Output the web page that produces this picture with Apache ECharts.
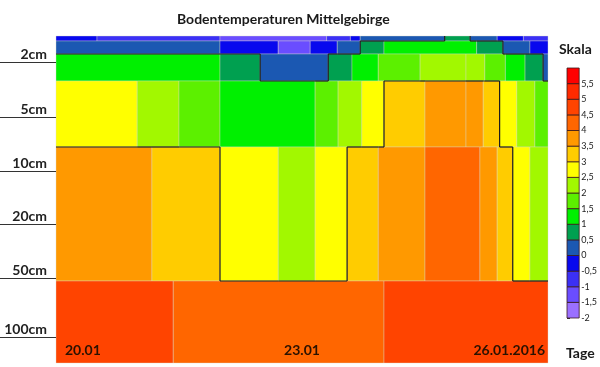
<!DOCTYPE html>
<html><head><meta charset="utf-8">
<script src="https://cdn.jsdelivr.net/npm/echarts@6/dist/echarts.min.js"></script>
<style>html,body{margin:0;padding:0;background:#fff}#c{width:600px;height:367px}</style>
</head><body><div id="c"></div>
<script>
// ---- data ----
const dateLabels = ['20.01', '23.01', '26.01.2016'];          // x axis (days 0,3,6)
const depthLabels = ['2cm', '5cm', '10cm', '20cm', '50cm', '100cm'];
const depthTickPos = [26, 81, 135, 188, 242, 301];             // positions on display-depth scale
const rowBounds = [0, 5, 18, 45, 111, 245, 327];               // layer boundaries on display-depth scale

// surface film
const rowAEdges = [0, 0.5, 2.0, 3.3, 3.59, 3.71, 4.74, 5.05, 5.38, 5.7, 6];
const rowAValues = [-0.3, -0.7, -1.2, -0.7, -0.3, 0.3, 0.8, 0.3, -0.3, -0.7];
// upper 2cm
const rowBEdges = [0, 2.0, 2.71, 3.1, 3.43, 3.71, 4.0, 5.13, 5.45, 5.78, 6];
const rowBValues = [0.3, -0.3, -1.2, -0.3, 0.3, 0.8, 1.3, 0.8, 0.3, -0.3];
// 2cm
const rowCEdges = [0, 2.0, 2.49, 3.32, 3.61, 3.93, 4.44, 5.0, 5.23, 5.48, 5.72, 5.94, 6];
const rowCValues = [1.3, 0.8, 0.3, 0.8, 1.3, 1.7, 2.2, 2.1, 1.7, 1.3, 0.8, 0.3];
// 5cm
const rowDEdges = [0, 0.99, 1.5, 2.0, 3.16, 3.44, 3.73, 4.0, 4.5, 5.0, 5.21, 5.41, 5.62, 5.84, 6];
const rowDValues = [2.7, 2.2, 1.7, 1.3, 1.8, 2.2, 2.8, 3.2, 3.7, 3.6, 3.2, 2.7, 2.2, 1.8];
// 10-50cm
const rowEEdges = [0, 1.17, 2.0, 2.71, 3.16, 3.55, 3.93, 4.5, 5.17, 5.38, 5.57, 5.78, 6];
const rowEValues = [3.7, 3.2, 2.7, 2.3, 2.7, 3.2, 3.7, 4.2, 3.7, 3.2, 2.7, 2.3];
// 100cm
const rowFEdges = [0, 1.43, 4.0, 6];
const rowFValues = [4.7, 4.3, 4.7];

const scaleBreaks = [-2, -1.5, -1, -0.5, 0, 0.5, 1, 1.5, 2, 2.5, 3, 3.5, 4, 4.5, 5, 5.5, 6];
const scaleColors = ['#9b70ff', '#6a4dff', '#3b30f5', '#0808ee', '#1b58b2', '#00a050',
  '#00f000', '#5cf000', '#a2f800', '#ffff00', '#ffcc00', '#ff9900', '#ff6600', '#ff4400', '#ff2a00', '#ff0000'];
const contourLevels = [0.5, 3];

// ---- build ----
const rows = [[rowAEdges, rowAValues], [rowBEdges, rowBValues], [rowCEdges, rowCValues],
  [rowDEdges, rowDValues], [rowEEdges, rowEValues], [rowFEdges, rowFValues]];

function colorFor(v) {
  for (let i = 0; i < scaleColors.length; i++) {
    if (v >= scaleBreaks[i] && v < scaleBreaks[i + 1]) return scaleColors[i];
  }
  return scaleColors[scaleColors.length - 1];
}

const cells = [];
rows.forEach(([e, vals], r) => {
  vals.forEach((v, i) => cells.push([e[i], e[i + 1], rowBounds[r], rowBounds[r + 1], v]));
});

const segs = [];
contourLevels.forEach(t => {
  rows.forEach(([e, vals], r) => {
    for (let i = 0; i < vals.length - 1; i++) {
      if ((vals[i] < t) !== (vals[i + 1] < t)) segs.push([e[i + 1], rowBounds[r], e[i + 1], rowBounds[r + 1]]);
    }
    if (r < rows.length - 1) {
      const [e2, v2] = rows[r + 1];
      for (let i = 0; i < vals.length; i++) for (let j = 0; j < v2.length; j++) {
        const a = Math.max(e[i], e2[j]), b = Math.min(e[i + 1], e2[j + 1]);
        if (b > a && ((vals[i] < t) !== (v2[j] < t))) segs.push([a, rowBounds[r + 1], b, rowBounds[r + 1]]);
      }
    }
  });
});

const legendBlocks = scaleColors.map((c, i) => [0, 1, scaleBreaks[i], scaleBreaks[i + 1], (scaleBreaks[i] + scaleBreaks[i + 1]) / 2]);

const FONT = 'Lato, "Open Sans", sans-serif';
const chart = echarts.init(document.getElementById('c'));
chart.setOption({
  animation: false,
  title: [
    { text: 'Bodentemperaturen Mittelgebirge', left: 172, top: 7,
      textStyle: { fontFamily: FONT, fontSize: 14, fontWeight: 'bold', color: '#1a1a1a' } },
    { text: 'Skala', left: 554, top: 37, textStyle: { fontFamily: FONT, fontSize: 14, fontWeight: 'bold', color: '#1a1a1a' } },
    { text: 'Tage', left: 561, top: 341, textStyle: { fontFamily: FONT, fontSize: 14, fontWeight: 'bold', color: '#1a1a1a' } }
  ],
  grid: [
    { left: 56, right: 52, top: 36, bottom: 4 },
    { left: 567, width: 15, top: 68, height: 250 }
  ],
  xAxis: [
    { type: 'value', gridIndex: 0, min: 0, max: 6, interval: 3, z: 10,
      axisLine: { show: false }, axisTick: { show: false }, splitLine: { show: false },
      axisLabel: { inside: true, margin: 6, fontFamily: FONT, fontSize: 14, fontWeight: 'bold', color: '#2b1200',
        alignMinLabel: 'left', alignMaxLabel: 'right',
        formatter: v => { const i = Math.round(v / 3); return i === 0 ? '{a|' + dateLabels[0] + '}' : i === 2 ? '{c|' + dateLabels[2] + '}' : dateLabels[i]; },
        rich: { a: { padding: [0, 0, 0, 9], fontFamily: FONT, fontSize: 14, fontWeight: 'bold', color: '#2b1200' },
                c: { padding: [0, 3, 0, 0], fontFamily: FONT, fontSize: 14, fontWeight: 'bold', color: '#2b1200' } } } },
    { type: 'value', gridIndex: 1, min: 0, max: 1, show: false }
  ],
  yAxis: [
    { type: 'value', gridIndex: 0, min: 0, max: 327, inverse: true, z: 10,
      axisLine: { show: false }, splitLine: { show: false },
      axisTick: { show: true, customValues: depthTickPos, length: 56, lineStyle: { color: '#333', width: 1 } },
      axisLabel: { customValues: depthTickPos, margin: 9, verticalAlign: 'bottom', padding: [0, 0, 1, 0],
        fontFamily: FONT, fontSize: 14, fontWeight: 'bold', color: '#222',
        formatter: v => depthLabels[depthTickPos.indexOf(v)] || '' } },
    { type: 'value', gridIndex: 1, min: -2, max: 6, interval: 0.5, position: 'right',
      axisLine: { show: false }, splitLine: { show: false },
      axisTick: { show: true, length: 3, lineStyle: { color: '#333' } },
      axisLabel: { margin: 2, fontFamily: FONT, fontSize: 9, color: '#222',
        formatter: v => v === 6 ? '' : String(v).replace('.', ',') } }
  ],
  series: [
    { type: 'custom', xAxisIndex: 0, yAxisIndex: 0, data: cells,
      renderItem: (p, api) => {
        const a = api.coord([api.value(0), api.value(2)]);
        const b = api.coord([api.value(1), api.value(3)]);
        return { type: 'rect', shape: { x: a[0], y: a[1], width: b[0] - a[0], height: b[1] - a[1] },
          style: { fill: colorFor(api.value(4)), stroke: 'rgba(215,215,200,0.55)', lineWidth: 0.7 } };
      } },
    { type: 'custom', xAxisIndex: 0, yAxisIndex: 0, data: segs, z: 3,
      renderItem: (p, api) => {
        const a = api.coord([api.value(0), api.value(1)]);
        const b = api.coord([api.value(2), api.value(3)]);
        return { type: 'line', shape: { x1: a[0], y1: a[1], x2: b[0], y2: b[1] },
          style: { stroke: '#1a1a1a', lineWidth: 1.2 } };
      } },
    { type: 'custom', xAxisIndex: 1, yAxisIndex: 1, data: legendBlocks,
      renderItem: (p, api) => {
        const a = api.coord([api.value(0), api.value(3)]);
        const b = api.coord([api.value(1), api.value(2)]);
        return { type: 'rect', shape: { x: a[0], y: a[1], width: b[0] - a[0], height: b[1] - a[1] },
          style: { fill: colorFor(api.value(4)), stroke: '#3a1a1a', lineWidth: 0.8 } };
      } }
  ]
});
</script></body></html>
